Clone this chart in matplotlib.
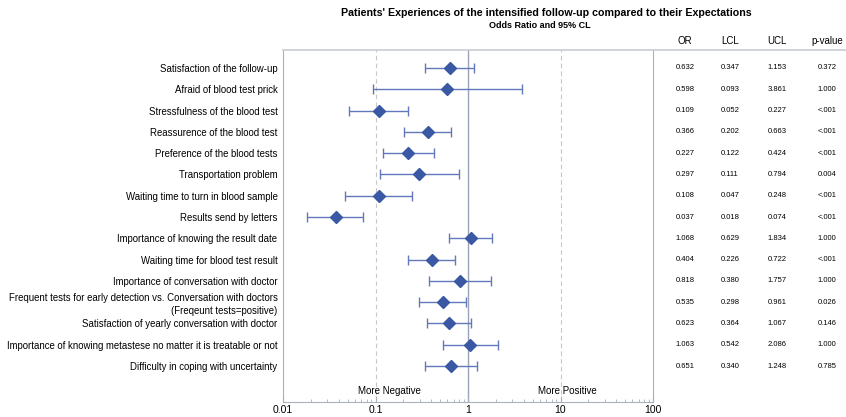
import matplotlib.pyplot as plt
from matplotlib.lines import Line2D

plt.rcParams['font.family'] = ['Liberation Sans', 'DejaVu Sans']

labels = [
    "Satisfaction of the follow-up",
    "Afraid of blood test prick",
    "Stressfulness of the blood test",
    "Reassurence of the blood test",
    "Preference of the blood tests",
    "Transportation problem",
    "Waiting time to turn in blood sample",
    "Results send by letters",
    "Importance of knowing the result date",
    "Waiting time for blood test result",
    "Importance of conversation with doctor",
    "Frequent tests for early detection vs. Conversation with doctors\n(Freqeunt tests=positive)",
    "Satisfaction of yearly conversation with doctor",
    "Importance of knowing metastese no matter it is treatable or not",
    "Difficulty in coping with uncertainty",
]
odds = [0.632, 0.598, 0.109, 0.366, 0.227, 0.297, 0.108, 0.037, 1.068, 0.404, 0.818, 0.535, 0.623, 1.063, 0.651]
lcl = [0.347, 0.093, 0.052, 0.202, 0.122, 0.111, 0.047, 0.018, 0.629, 0.226, 0.380, 0.298, 0.364, 0.542, 0.340]
ucl = [1.153, 3.861, 0.227, 0.663, 0.424, 0.794, 0.248, 0.074, 1.834, 0.722, 1.757, 0.961, 1.067, 2.086, 1.248]
pvals = ["0.372", "1.000", "<.001", "<.001", "<.001", "0.004", "<.001", "<.001",
         "1.000", "<.001", "1.000", "0.026", "0.146", "1.000", "0.785"]

W, H = 846, 417
fig = plt.figure(figsize=(W / 100, H / 100), dpi=100)

x0, x1, ytop, ybot = 283, 653, 50, 402
ax = fig.add_axes([x0 / W, 1 - ybot / H, (x1 - x0) / W, (ybot - ytop) / H])

rows = list(range(len(labels)))
ax.set_xscale('log')
ax.set_xlim(0.01, 100)
ax.set_ylim(15.69, -0.845)

spine_col = '#A9B0BE'
ax.axvline(0.1, color='#C8C8C8', ls=(0, (4, 3)), lw=0.8, zorder=1)
ax.axvline(10, color='#C8C8C8', ls=(0, (4, 3)), lw=0.8, zorder=1)
ax.axvline(1, color='#9AA3B5', lw=1.0, zorder=1)

xerr = [[o - l for o, l in zip(odds, lcl)], [u - o for o, u in zip(odds, ucl)]]
ax.errorbar(odds, rows, xerr=xerr, fmt='none', ecolor='#6278BC', elinewidth=1.0,
            capsize=3.5, capthick=1.0, zorder=2)
ax.plot(odds, rows, 'D', color='#3A58A3', ms=6.5, zorder=3)

ax.text(0.14, 15.17, "More Negative", ha='center', va='center', fontsize=7)
ax.text(12, 15.17, "More Positive", ha='center', va='center', fontsize=7)

ax.set_yticks(rows)
ax.set_yticklabels(labels, fontsize=6.9, linespacing=1.35)
ax.tick_params(axis='y', length=0, pad=4)
ax.set_xticks([0.01, 0.1, 1, 10, 100])
ax.set_xticklabels(["0.01", "0.1", "1", "10", "100"], fontsize=7.5)
ax.tick_params(axis='x', which='major', direction='in', length=4, color=spine_col, pad=2)
ax.tick_params(axis='x', which='minor', direction='in', length=2, color=spine_col)
for s in ['left', 'bottom', 'right']:
    ax.spines[s].set_color(spine_col)
ax.spines['top'].set_visible(False)

# top border over plot and table
fig.add_artist(Line2D([x0 / W, 1], [1 - ytop / H] * 2, color='#C8CCD4', lw=1.2))

# table
col_x = [685, 730, 777, 827]
heads = ["OR", "LCL", "UCL", "p-value"]
for cx, hd in zip(col_x, heads):
    fig.text(cx / W, 1 - 41 / H, hd, ha='center', va='center', fontsize=7)
cols = [["%.3f" % v for v in odds], ["%.3f" % v for v in lcl], ["%.3f" % v for v in ucl], pvals]
trans = ax.get_yaxis_transform()
for cx, col in zip(col_x, cols):
    for r, txt in zip(rows, col):
        ax.text((cx - x0) / (x1 - x0), r, txt, transform=trans, ha='center', va='center',
                fontsize=5.5, clip_on=False)

fig.text(546 / W, 1 - 13 / H, "Patients' Experiences of the intensified follow-up compared to their Expectations",
         ha='center', va='center', fontsize=7.7, fontweight='bold')
fig.text(540 / W, 1 - 25 / H, "Odds Ratio and 95% CL", ha='center', va='center', fontsize=6.5, fontweight='bold')

fig.savefig("out.png", dpi=100)
